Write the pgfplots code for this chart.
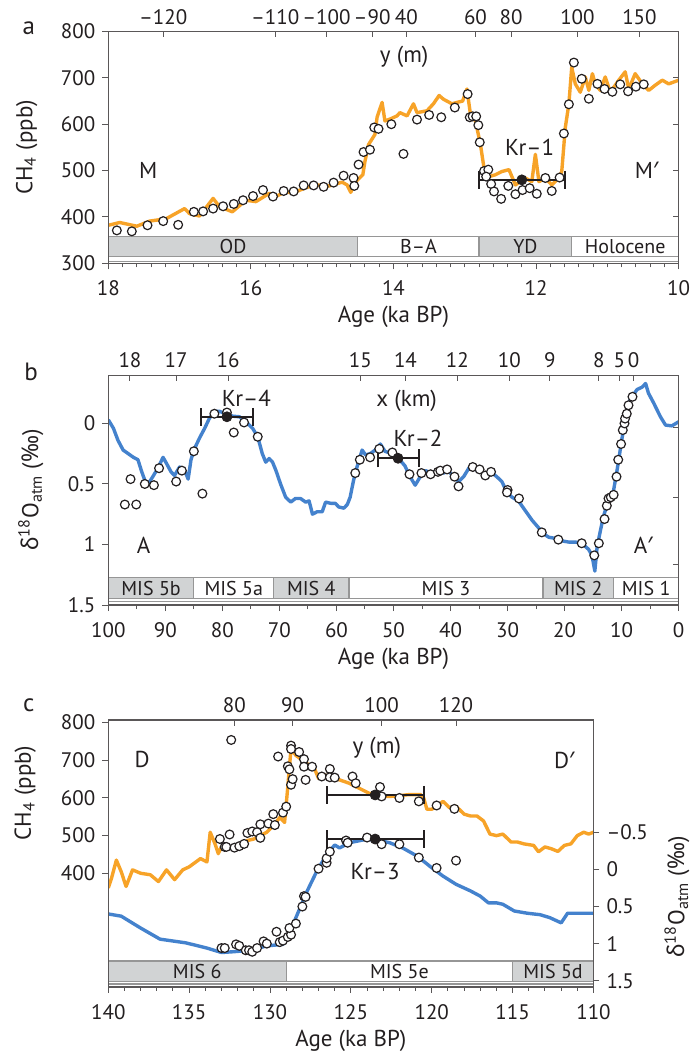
\documentclass[border=0pt]{standalone}
\usepackage{fontspec}
\setmainfont{PT Sans}
\newfontfamily\notosans{Noto Sans}
\usepackage{pgfplots}
\pgfplotsset{compat=1.18}
\definecolor{ch4}{RGB}{247,163,40}
\definecolor{d18}{RGB}{68,130,205}
\definecolor{band}{RGB}{209,211,212}
\definecolor{bandline}{RGB}{150,150,150}
\definecolor{ink}{RGB}{35,31,32}

\newcommand{\dO}{{\notosans δ}\textsuperscript{18}O\textsubscript{atm} ({\notosans ‰})}
\newcommand{\pr}{{\notosans ′}}

\pgfplotsset{
  base/.style={scale only axis, x dir=reverse,
    axis line style={ink!75, line width=0.5pt},
    tick style={ink!75, line width=0.5pt},
    major tick length=3pt, minor tick length=2pt,
    tick label style={font=\fontsize{10.5}{12}\selectfont, text=ink},
    label style={font=\fontsize{11.5}{13}\selectfont, text=ink},
    /pgf/number format/assume math mode=true},
  main/.style={base, xtick pos=left, ytick pos=left, tick align=outside,
    xticklabel style={yshift=-2pt},
    xlabel style={at={(axis description cs:0.5,0)}, anchor=center, yshift=-27pt}},
  over/.style={base, xtick pos=right, xticklabel pos=right, ytick pos=right,
    yticklabels={}, tick align=inside},
  oline/.style={ch4, line width=1.7pt, line join=round, no marks},
  bline/.style={d18, line width=1.7pt, line join=round, no marks},
  circ/.style={only marks, mark=*, mark size=2.2pt,
    mark options={draw=ink, fill=white, line width=0.6pt}},
  kr/.style={only marks, mark=*, mark size=2.5pt, mark options={fill=ink, draw=ink},
    error bars/.cd, x dir=both, x explicit,
    error bar style={ink, line width=1pt},
    error mark options={rotate=90, ink, line width=1pt, mark size=4.5pt}},
}
\tikzset{
  ann/.style={font=\fontsize{11.5}{14}\selectfont, text=ink},
  blab/.style={font=\fontsize{10}{12}\selectfont, text=ink},
  bandbox/.style={draw=bandline, line width=0.6pt},
}

\begin{document}
\begin{tikzpicture}
\useasboundingbox (0,0) rectangle (347pt,528.5pt);

% ---------------- panel a ----------------
\begin{axis}[main, at={(54.15pt,396.85pt)}, anchor=south west,
  width=285.2pt, height=115.9pt,
  xmin=10, xmax=18, ymin=300, ymax=800,
  xtick={10,12,...,18}, minor x tick num=9,
  ytick={300,400,...,800},
  xlabel={Age (ka BP)},
  ylabel={CH\textsubscript{4} (ppb)},
  ylabel style={at={(axis description cs:-0.143,0.5)}, anchor=center}]
  \fill[band] (axis cs:18,314) rectangle (axis cs:14.5,358);
  \fill[band] (axis cs:12.8,314) rectangle (axis cs:11.5,358);
  \draw[bandbox] (axis cs:18,314) rectangle (axis cs:10,358);
  \draw[bandbox] (axis cs:14.5,314) -- (axis cs:14.5,358);
  \draw[bandbox] (axis cs:12.8,314) -- (axis cs:12.8,358);
  \draw[bandbox] (axis cs:11.5,314) -- (axis cs:11.5,358);
  \draw[bandbox] (axis cs:18,304) -- (axis cs:10,304);
  \node[blab] at (axis cs:16.25,336) {OD};
  \node[blab] at (axis cs:13.65,336) {B–A};
  \node[blab] at (axis cs:12.15,336) {YD};
  \node[blab] at (axis cs:10.75,336) {Holocene};

  \addplot[oline] coordinates {
    (18.00,382)(17.84,388)(17.60,380)(17.42,391)(17.19,396)(16.93,418)(16.86,407)
    (16.72,402)(16.53,440)(16.44,422)(16.26,411)(16.07,436)(15.93,433)(15.74,451)
    (15.65,444)(15.51,455)(15.42,451)(15.23,463)(15.09,469)(14.90,467)(14.72,475)
    (14.65,469)(14.60,453)(14.53,476)(14.43,491)(14.40,520)(14.35,556)(14.26,578)
    (14.23,615)(14.16,647)(14.12,607)(14.05,611)(13.95,618)(13.91,625)(13.81,618)
    (13.72,644)(13.67,625)(13.53,629)(13.44,644)(13.36,662)(13.30,654)(13.18,644)
    (13.11,647)(13.03,650)(12.97,676)(12.92,621)(12.85,607)(12.78,556)(12.73,505)
    (12.66,487)(12.57,491)(12.48,498)(12.38,502)(12.29,469)(12.15,484)(12.06,476)
    (12.01,535)(11.96,476)(11.87,484)(11.78,469)(11.68,484)(11.64,498)(11.59,593)
    (11.54,644)(11.50,723)(11.45,687)(11.38,669)(11.31,702)(11.26,673)(11.21,709)
    (11.17,687)(11.10,673)(11.03,702)(10.96,669)(10.84,695)(10.75,713)(10.70,676)
    (10.61,709)(10.51,687)(10.42,673)(10.33,684)(10.23,695)(10.14,687)(10.00,695)};
  \addplot[circ] coordinates {
    (17.88,371)(17.67,369)(17.45,382)(17.23,391)(17.02,383)(16.80,411)(16.67,412)
    (16.53,418)(16.39,423)(16.24,428)(16.11,436)(15.97,445)(15.83,458)(15.69,444)
    (15.54,456)(15.40,455)(15.26,468)(15.12,468)(14.98,465)(14.84,474)(14.70,489)
    (14.56,484)(14.55,467)(14.49,513)(14.42,540)(14.33,545)(14.27,593)(14.21,590)
    (14.03,600)(13.86,536)(13.67,610)(13.50,620)(13.33,615)(13.14,636)(12.96,665)
    (12.93,615)(12.89,617)(12.84,617)(12.81,598)(12.79,561)(12.73,499)(12.67,502)
    (12.70,487)(12.63,471)(12.59,455)(12.49,439)(12.39,467)(12.29,449)(12.19,458)
    (12.09,462)(11.99,450)(11.87,484)(11.78,456)(11.67,485)(11.61,580)(11.54,643)
    (11.47,733)(11.36,698)(11.26,655)(11.14,687)(11.04,676)(10.93,670)(10.82,686)
    (10.71,671)(10.60,681)(10.49,686)};
  \addplot[kr] coordinates {(12.2,480) +- (0.6,0)};
  \node[ann] at (axis cs:17.44,501) {M};
  \node[ann] at (axis cs:10.45,501) {M\pr};
  \node[ann] at (axis cs:12.09,551) {Kr–1};
  \node[ann] at (axis cs:13.85,746) {y (m)};
\end{axis}
\begin{axis}[over, at={(54.15pt,396.85pt)}, anchor=south west,
  width=285.2pt, height=115.9pt,
  xmin=10, xmax=18, ymin=300, ymax=800,
  xtick={17.23,15.66,14.94,14.30,13.82,12.85,12.35,11.42,10.55},
  xticklabels={–120,–110,–100,–90,40,60,80,100,150},
  ytick={400,500,600,700}]
\end{axis}

% ---------------- panel b ----------------
\begin{axis}[main, at={(54.15pt,226pt)}, anchor=south west,
  width=285.2pt, height=115pt,
  xmin=0, xmax=100, ymin=-0.4, ymax=1.5, y dir=reverse,
  xtick={0,10,...,100}, minor x tick num=1,
  ytick={0,0.5,1,1.5},
  xlabel={Age (ka BP)},
  ylabel={\dO},
  ylabel style={at={(axis description cs:-0.136,0.5)}, anchor=center}]
  \fill[band] (axis cs:100,1.274) rectangle (axis cs:85,1.446);
  \fill[band] (axis cs:71,1.274) rectangle (axis cs:57.8,1.446);
  \fill[band] (axis cs:23.8,1.274) rectangle (axis cs:11.4,1.446);
  \draw[bandbox] (axis cs:100,1.274) rectangle (axis cs:0,1.446);
  \draw[bandbox] (axis cs:85,1.274) -- (axis cs:85,1.446);
  \draw[bandbox] (axis cs:71,1.274) -- (axis cs:71,1.446);
  \draw[bandbox] (axis cs:57.8,1.274) -- (axis cs:57.8,1.446);
  \draw[bandbox] (axis cs:23.8,1.274) -- (axis cs:23.8,1.446);
  \draw[bandbox] (axis cs:11.4,1.274) -- (axis cs:11.4,1.446);
  \draw[bandbox] (axis cs:100,1.47) -- (axis cs:0,1.47);
  \node[blab] at (axis cs:92.5,1.36) {MIS 5b};
  \node[blab] at (axis cs:78,1.36) {MIS 5a};
  \node[blab] at (axis cs:64.4,1.36) {MIS 4};
  \node[blab] at (axis cs:40.8,1.36) {MIS 3};
  \node[blab] at (axis cs:17.6,1.36) {MIS 2};
  \node[blab] at (axis cs:5.7,1.36) {MIS 1};

  \addplot[bline] coordinates {
    (100.0,-0.03)(99.1,0.04)(98.3,0.14)(97.4,0.22)(96.5,0.25)(95.6,0.28)(94.8,0.30)
    (94.2,0.39)(93.6,0.47)(93.0,0.50)(92.2,0.44)(91.3,0.37)(90.4,0.28)(89.8,0.33)
    (89.0,0.40)(88.4,0.43)(87.5,0.36)(86.6,0.39)(86.0,0.46)(85.5,0.30)(84.9,0.21)
    (84.0,0.12)(83.1,0.04)(82.3,-0.04)(81.4,-0.10)(80.5,-0.10)(79.4,-0.08)(78.2,-0.06)
    (77.0,-0.055)(75.9,-0.014)(74.7,0.04)(73.8,0.11)(73.0,0.25)(72.4,0.32)(71.8,0.29)
    (71.2,0.32)(70.6,0.39)(69.8,0.50)(68.9,0.61)(68.0,0.65)(67.2,0.62)(66.3,0.62)
    (65.4,0.65)(64.8,0.64)(64.2,0.75)(63.4,0.73)(62.5,0.73)(61.9,0.65)(61.0,0.66)
    (60.2,0.66)(59.6,0.69)(58.7,0.70)(58.1,0.67)(57.6,0.61)(57.0,0.47)(56.4,0.36)
    (55.5,0.22)(54.9,0.26)(54.1,0.25)(53.2,0.22)(52.3,0.17)(51.5,0.23)(50.3,0.25)
    (49.1,0.29)(48.0,0.35)(47.1,0.44)(46.2,0.51)(45.3,0.44)(44.4,0.39)(43.3,0.41)
    (42.4,0.39)(41.2,0.41)(40.4,0.39)(39.5,0.44)(38.6,0.48)(37.7,0.44)(36.8,0.37)
    (36.0,0.36)(35.1,0.40)(33.9,0.41)(32.7,0.41)(31.9,0.44)(31.0,0.48)(30.1,0.57)
    (29.2,0.61)(28.1,0.64)(26.9,0.72)(25.7,0.80)(24.6,0.86)(23.7,0.91)(22.8,0.94)
    (21.6,0.95)(20.5,0.97)(19.3,0.98)(18.1,0.98)(17.0,0.99)(15.8,1.04)(15.2,1.09)
    (14.7,1.22)(14.3,1.02)(13.7,0.88)(13.2,0.77)(12.6,0.68)(12.0,0.62)(11.4,0.55)
    (11.0,0.44)(10.5,0.30)(10.1,0.17)(9.6,0.03)(9.2,-0.08)(8.8,-0.17)(8.2,-0.22)
    (7.3,-0.28)(6.4,-0.30)(5.8,-0.33)(5.3,-0.25)(4.4,-0.17)(3.2,-0.055)(2.3,0.014)
    (1.2,0.02)(0.0,-0.014)};
  \addplot[circ] coordinates {
    (97.1,0.67)(95.1,0.67)(96.1,0.46)(93.6,0.50)(92.0,0.51)(91.1,0.37)(88.1,0.48)
    (87.1,0.39)(85.0,0.23)(83.5,0.58)(81.4,-0.08)(79.2,-0.09)(78.0,0.075)(76.2,-0.008)
    (73.8,0.11)(56.7,0.41)(55.9,0.30)(54.1,0.28)(52.5,0.21)(50.2,0.24)(47.2,0.42)
    (45.1,0.41)(43.5,0.42)(42.2,0.40)(41.8,0.39)(40.6,0.38)(39.3,0.44)(38.6,0.52)
    (36.1,0.36)(34.9,0.38)(33.9,0.43)(32.9,0.40)(30.0,0.55)(30.1,0.57)(28.0,0.62)
    (24.0,0.90)(21.1,0.96)(17.0,0.99)(14.8,1.09)(14.0,0.99)(13.0,0.79)(12.6,0.68)
    (12.3,0.62)(11.9,0.61)(11.4,0.59)(10.9,0.44)(10.6,0.30)(10.1,0.17)(9.8,0.055)
    (9.5,0.0)(9.4,-0.04)(9.1,-0.08)(8.8,-0.15)(8.1,-0.22)};
  \addplot[kr] coordinates {(79.2,-0.055) +- (4.6,0)};
  \addplot[kr] coordinates {(49.2,0.288) +- (3.6,0)};
  \node[ann] at (axis cs:75.8,-0.21) {Kr–4};
  \node[ann] at (axis cs:45.7,0.12) {Kr–2};
  \node[ann] at (axis cs:47.7,-0.19) {x (km)};
  \node[ann] at (axis cs:93.8,1.01) {A};
  \node[ann] at (axis cs:6.2,1.01) {A\pr};
\end{axis}
\begin{axis}[over, at={(54.15pt,226pt)}, anchor=south west,
  width=285.2pt, height=115pt,
  xmin=0, xmax=100, ymin=-0.4, ymax=1.5, y dir=reverse,
  xtick={96.2,88.1,79.0,55.8,47.9,38.8,29.7,22.6,14.0,10.4,7.9},
  xticklabels={18,17,16,15,14,12,10,9,8,5,0},
  ytick={0.03,0.61,1.165}]
\end{axis}

% ---------------- panel c ----------------
\begin{axis}[main, at={(54.15pt,35pt)}, anchor=south west,
  width=242.6pt, height=133.5pt,
  xmin=110, xmax=140, ymin=98, ymax=807,
  xtick={110,115,...,140}, minor x tick num=4,
  ytick={400,500,...,800},
  xlabel={Age (ka BP)},
  ylabel={CH\textsubscript{4} (ppb)},
  ylabel style={at={(axis description cs:-0.171,0.727)}, anchor=center}]
  \fill[band] (axis cs:140,112) rectangle (axis cs:129,167);
  \fill[band] (axis cs:115,112) rectangle (axis cs:110,167);
  \draw[bandbox] (axis cs:140,112) rectangle (axis cs:110,167);
  \draw[bandbox] (axis cs:129,112) -- (axis cs:129,167);
  \draw[bandbox] (axis cs:115,112) -- (axis cs:115,167);
  \draw[bandbox] (axis cs:140,106) -- (axis cs:110,106);
  \node[blab] at (axis cs:134.5,139.5) {MIS 6};
  \node[blab] at (axis cs:122,139.5) {MIS 5e};
  \node[blab] at (axis cs:112.5,139.5) {MIS 5d};

  \addplot[oline] coordinates {
    (140.0,361)(139.8,387)(139.5,435)(139.2,404)(138.9,365)(138.5,409)(138.0,400)
    (137.4,396)(136.9,378)(136.4,409)(135.9,383)(135.4,409)(135.0,417)(134.3,439)
    (133.9,430)(133.7,509)(133.4,478)(133.2,452)(133.0,470)(132.3,470)(131.9,470)
    (131.4,487)(131.0,491)(130.6,500)(130.2,509)(129.8,526)(129.4,548)(129.1,535)
    (128.9,630)(128.8,683)(128.7,730)(128.4,713)(128.0,700)(127.7,691)(127.3,683)
    (127.0,652)(126.6,661)(126.1,652)(125.7,648)(125.1,639)(124.5,626)(123.9,613)
    (123.2,604)(122.6,604)(122.0,606)(121.4,609)(120.7,609)(120.5,600)(120.3,570)
    (120.0,570)(119.7,578)(119.3,591)(118.9,574)(118.5,578)(118.0,557)(117.6,552)
    (117.2,552)(116.8,539)(116.4,504)(116.0,500)(115.6,504)(115.1,483)(114.7,483)
    (114.3,478)(113.7,474)(113.4,457)(113.0,470)(112.6,465)(112.2,458)(111.8,474)
    (111.4,478)(111.0,500)(110.6,509)(110.3,504)(110.0,509)};
  \addplot[circ] coordinates {
    (132.4,754)(133.1,491)(132.5,503)(132.8,470)(132.7,470)(132.2,468)(131.9,472)
    (131.6,478)(131.4,507)(131.1,511)(130.8,509)(130.6,494)(130.6,530)(130.1,532)
    (129.8,557)(129.7,528)(129.2,561)(129.0,577)(128.9,684)(128.8,676)(128.7,635)
    (128.6,650)(128.7,739)(128.7,730)(129.5,710)(128.2,722)(127.9,703)(127.9,683)
    (127.8,648)(127.4,683)(126.8,657)(126.3,677)(126.3,655)(126.0,654)(124.9,657)
    (124.7,639)(123.2,629)(123.1,604)(122.0,600)(120.8,591)(119.7,580)(118.6,571)};
  \addplot[kr] coordinates {(123.5,608) +- (3.0,0)};
  \node[ann] at (axis cs:137.9,701) {D};
  \node[ann] at (axis cs:111.8,701) {D\pr};
  \node[ann] at (axis cs:123.4,732) {y (m)};
  \node[ann] at (axis cs:123.5,404) {Kr–3};
\end{axis}
\begin{axis}[base, at={(54.15pt,35pt)}, anchor=south west,
  width=242.6pt, height=133.5pt,
  xmin=110, xmax=140, ymin=-2.015, ymax=1.585, y dir=reverse,
  xtick=\empty, ytick pos=right, yticklabel pos=right, tick align=outside,
  ytick={-0.5,0,0.5,1,1.5}, yticklabels={–0.5,0,0.5,1,1.5},
  ylabel={\dO},
  ylabel style={at={(axis description cs:1.172,0.337)}, anchor=center}]
  \addplot[bline] coordinates {
    (140,0.60)(139.2,0.63)(138.0,0.79)(136.8,0.94)(135.2,0.99)(133.9,1.06)(133.0,1.12)
    (132.3,1.11)(131.2,1.09)(130.2,1.03)(129.2,1.01)(128.9,0.92)(128.4,0.65)(127.7,0.29)
    (127.1,0.02)(126.5,-0.20)(126.0,-0.33)(125.7,-0.29)(125.1,-0.36)(124.2,-0.40)
    (123.4,-0.40)(122.6,-0.36)(121.8,-0.29)(120.9,-0.18)(120.1,-0.04)(119.3,0.09)
    (118.5,0.20)(117.6,0.29)(117.0,0.36)(116.5,0.45)(116.0,0.45)(115.6,0.47)(114.9,0.56)
    (114.1,0.59)(113.3,0.61)(112.7,0.65)(112.0,0.72)(111.6,0.59)(111.0,0.59)(110.0,0.59)};
  \addplot[circ] coordinates {
    (133.0,1.06)(132.8,1.06)(132.1,1.01)(131.9,1.03)(131.5,1.09)(131.3,1.09)(131.1,1.11)
    (130.8,1.06)(130.4,0.97)(130.2,1.00)(129.6,0.84)(129.4,0.98)(129.2,0.96)(128.9,0.91)
    (128.7,0.88)(128.8,0.79)(128.4,0.73)(128.0,0.50)(127.9,0.36)(127.8,0.37)(127.0,-0.01)
    (126.5,-0.09)(126.5,-0.15)(126.3,-0.24)(125.3,-0.39)(125.2,-0.36)(124.0,-0.43)
    (123.1,-0.34)(122.0,-0.34)(120.8,-0.16)(119.7,-0.02)(118.5,-0.12)};
  \addplot[kr] coordinates {(123.5,-0.41) +- (3.0,0)};
\end{axis}
\begin{axis}[over, at={(54.15pt,35pt)}, anchor=south west,
  width=242.6pt, height=133.5pt,
  xmin=110, xmax=140, ymin=98, ymax=807,
  xtick={132.2,128.6,123.1,118.5},
  xticklabels={80,90,100,120},
  ytick=\empty]
\end{axis}

\node[font=\fontsize{12.5}{14}\selectfont, text=ink] at (14.4pt,514.35pt) {a};
\node[font=\fontsize{12.5}{14}\selectfont, text=ink] at (15.5pt,342.65pt) {b};
\node[font=\fontsize{12.5}{14}\selectfont, text=ink] at (14.4pt,176pt) {c};
\end{tikzpicture}
\end{document}
